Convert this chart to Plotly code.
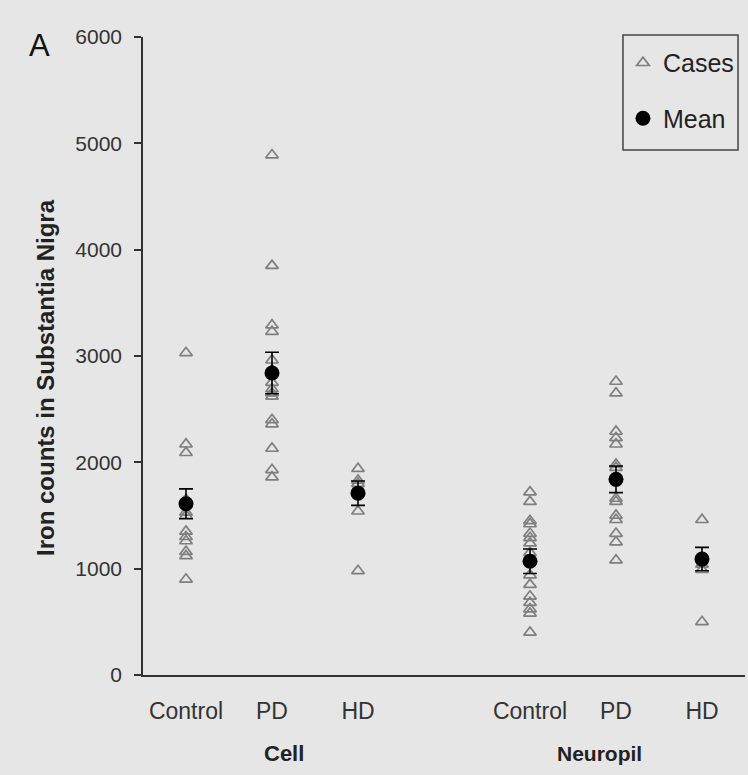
import plotly.graph_objects as go

# ---- data ----
categories = ["Control", "PD", "HD", "Control", "PD", "HD"]
groups = ["Cell", "Neuropil"]

cell_control = [3030, 2170, 2090, 1650, 1530, 1500, 1350, 1300, 1260, 1160, 1120, 900]
cell_pd = [4890, 3850, 3290, 3230, 2960, 2870, 2750, 2690, 2650, 2620, 2400, 2360, 2130, 1930, 1860]
cell_hd = [1940, 1830, 1800, 1540, 980]
neuropil_control = [1720, 1630, 1450, 1420, 1330, 1290, 1240, 1150, 940, 850, 740, 680, 620, 580, 400]
neuropil_pd = [2760, 2650, 2290, 2230, 2170, 1980, 1950, 1660, 1630, 1500, 1460, 1330, 1250, 1080]
neuropil_hd = [1460, 1040, 990, 500]

means = [1610, 2840, 1710, 1070, 1840, 1090]
sem = [140, 195, 115, 115, 125, 110]

y_title = "Iron counts in Substantia Nigra"
panel_label = "A"

# ---- layout of categories: two groups of three, one empty slot between ----
case_lists = [cell_control, cell_pd, cell_hd, neuropil_control, neuropil_pd, neuropil_hd]
xpos = [i if i < 3 else i + 1 for i in range(len(categories))]

cx, cy = [], []
for p, vals in zip(xpos, case_lists):
    cx += [p] * len(vals)
    cy += vals

BG = "#e6e6e6"
FONT = "Liberation Sans"

fig = go.Figure()
fig.add_trace(go.Scatter(
    x=cx, y=cy, mode="markers", name="Cases", legendgroup="a",
    marker=dict(symbol="triangle-up-open", size=11, color="#7f7f7f",
                line=dict(width=1.7, color="#7f7f7f")),
))
fig.add_trace(go.Scatter(
    x=xpos, y=means, mode="markers", name="Mean", legendgroup="b",
    marker=dict(symbol="circle", size=15, color="black"),
    error_y=dict(type="data", array=sem, visible=True, color="black",
                 thickness=1.6, width=7),
))

fig.update_layout(
    width=748, height=775,
    margin=dict(l=143, r=3, t=37, b=100),
    paper_bgcolor=BG, plot_bgcolor=BG,
    font=dict(family=FONT, color="#333333"),
    showlegend=True,
    legend=dict(
        x=0.7973, y=0.9953, xanchor="left", yanchor="top",
        bgcolor="rgba(0,0,0,0)", borderwidth=0,
        font=dict(size=25, color="#222222"),
        traceorder="grouped", tracegroupgap=20,
    ),
    shapes=[
        dict(type="rect", xref="paper", yref="paper",
             x0=0.7973, x1=0.9884, y0=0.8229, y1=1.0031,
             line=dict(color="#444444", width=1.5), fillcolor="rgba(0,0,0,0)"),
    ],
    xaxis=dict(
        range=[-0.5, 6.5], tickvals=xpos, ticktext=categories,
        showline=True, linecolor="#333333", linewidth=1.5,
        showgrid=False, zeroline=False,
        ticks="outside", ticklen=15, tickcolor="rgba(0,0,0,0)",
        tickfont=dict(size=23, color="#333333"),
    ),
    yaxis=dict(
        range=[0, 6000], tickvals=[0, 1000, 2000, 3000, 4000, 5000, 6000],
        showline=True, linecolor="#333333", linewidth=1.5,
        showgrid=False, zeroline=False,
        ticks="outside", ticklen=7, tickcolor="#333333", tickwidth=1.5,
        ticklabelstandoff=8,
        tickfont=dict(size=21, color="#333333"),
    ),
    annotations=[
        dict(text="<b>" + y_title + "</b>", textangle=-90,
             x=0, xref="paper", xshift=-98, y=0.5, yref="paper", yshift=-22,
             showarrow=False, xanchor="center", yanchor="middle",
             font=dict(size=24, color="#222222")),
        dict(text="<b>" + groups[0] + "</b>", x=(xpos[0] + xpos[2]) / 2 + 0.14,
             xref="x", y=0, yref="paper", yshift=-78, showarrow=False,
             xanchor="center", yanchor="middle",
             font=dict(size=22, color="#222222")),
        dict(text="<b>" + groups[1] + "</b>", x=(xpos[3] + xpos[5]) / 2 - 0.19,
             xref="x", y=0, yref="paper", yshift=-78, showarrow=False,
             xanchor="center", yanchor="middle",
             font=dict(size=21, color="#222222")),
        dict(text=panel_label, x=0, xref="paper", xshift=-104, y=1, yref="paper",
             yshift=-8, showarrow=False, xanchor="center", yanchor="middle",
             font=dict(size=31, color="#111111")),
    ],
)

fig.write_html(
    "out.html",
    config={"displayModeBar": False},
    post_script="document.body.style.margin='0px';"
                "document.body.style.background='" + BG + "';",
)
